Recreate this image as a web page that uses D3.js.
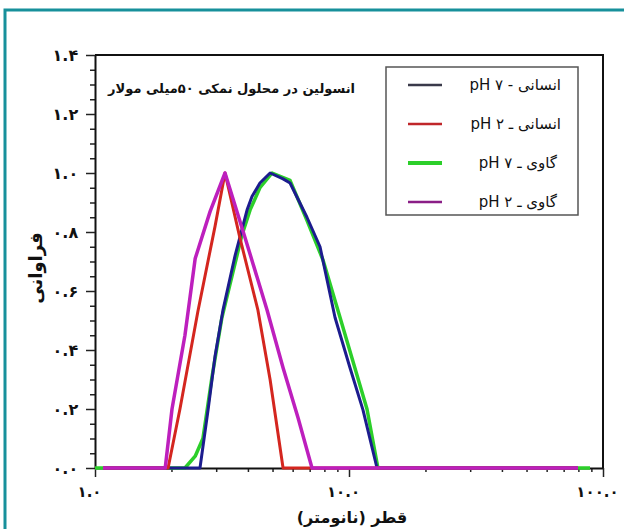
<!DOCTYPE html>
<html lang="fa">
<head>
<meta charset="UTF-8">
<title>توزیع اندازه ذرات انسولین</title>
<script src="https://d3js.org/d3.v7.min.js"></script>
<style>
  body { margin: 0; background: #fff; }
  svg text { font-family: "DejaVu Sans", "Noto Sans", sans-serif; fill: #111; }
</style>
</head>
<body>
<svg width="624" height="529"></svg>
<script>
// diameter (nm) and frequency
var humanPh7X = [1.075, 2.59, 2.79, 2.97, 3.19, 3.56, 3.97, 4.15, 4.46, 4.89, 5.50, 5.86, 6.83, 7.69, 8.81, 10.09, 11.35, 12.89, 79.7];
var humanPh7Y = [0, 0, 0.2, 0.38, 0.535, 0.72, 0.875, 0.92, 0.966, 1.0, 0.98, 0.966, 0.85, 0.75, 0.51, 0.34, 0.197, 0, 0];

var humanPh2X = [1.075, 1.94, 2.16, 2.54, 2.97, 3.25, 3.72, 4.38, 4.89, 5.50, 79.7];
var humanPh2Y = [0, 0, 0.2, 0.53, 0.82, 1.0, 0.78, 0.535, 0.3, 0, 0];

var bovinePh7X = [1.0, 2.26, 2.48, 2.66, 2.89, 3.16, 3.79, 4.08, 4.46, 4.98, 5.86, 6.83, 7.90, 9.22, 11.77, 13.0, 88.9];
var bovinePh7Y = [0, 0, 0.04, 0.1, 0.31, 0.51, 0.79, 0.875, 0.95, 1.0, 0.975, 0.84, 0.705, 0.51, 0.2, 0, 0];

var bovinePh2X = [1.075, 1.89, 2.01, 2.26, 2.48, 2.84, 3.25, 3.90, 4.76, 5.50, 6.30, 7.15, 79.7];
var bovinePh2Y = [0, 0, 0.2, 0.45, 0.71, 0.87, 1.0, 0.78, 0.535, 0.34, 0.17, 0, 0];

var seriesNames = ["انسانی - pH ۷", "انسانی ـ pH ۲", "گاوی ـ pH ۷", "گاوی ـ pH ۲"];
var seriesColors = ["#1c1c8e", "#d4261f", "#2ccf2a", "#bd1fbd"];
var legendColors = ["#3a3a4a", "#c0262a", "#2ccf2a", "#8a1e86"];

var yTicks = [0, 0.2, 0.4, 0.6, 0.8, 1.0, 1.2, 1.4];
var yTickLabels = ["۰.۰", "۰.۲", "۰.۴", "۰.۶", "۰.۸", "۱.۰", "۱.۲", "۱.۴"];
var xTicks = [1, 10, 100];
var xTickLabels = ["۱.۰", "۱۰.۰", "۱۰۰.۰"];

var chartTitle = "انسولین در محلول نمکی ۵۰میلی مولار";
var xTitle = "قطر (نانومتر)";
var yTitle = "فراوانی";

var svg = d3.select("svg");
var plotLeft = 95, plotRight = 603, plotTop = 55, plotBottom = 468;

// teal frame around the figure
svg.append("path")
   .attr("d", "M5,640 V10 H640")
   .attr("fill", "none")
   .attr("stroke", "#17909b")
   .attr("stroke-width", 3);

var x = d3.scaleLog().domain([1, 100]).range([plotLeft, plotRight]);
var y = d3.scaleLinear().domain([0, 1.4]).range([plotBottom, plotTop]);

// minor ticks
var xMinor = [];
[1, 10].forEach(function(b) { for (var k = 2; k <= 9; k++) xMinor.push(b * k); });
var yMinor = d3.range(0, 1.4001, 0.05).filter(function(v) { return Math.abs(v * 5 - Math.round(v * 5)) > 1e-6; });

svg.append("g")
   .attr("transform", "translate(0," + plotBottom + ")")
   .call(d3.axisBottom(x).tickValues(xMinor).tickSize(4).tickFormat(""))
   .call(function(g) { g.select(".domain").remove(); });

svg.append("g")
   .attr("transform", "translate(" + plotLeft + ",0)")
   .call(d3.axisLeft(y).tickValues(yMinor).tickSize(5).tickFormat(""))
   .call(function(g) { g.select(".domain").remove(); });

// major axes
svg.append("g")
   .attr("class", "xaxis")
   .attr("transform", "translate(0," + plotBottom + ")")
   .call(d3.axisBottom(x).tickValues(xTicks).tickSize(9).tickSizeOuter(0)
         .tickFormat(function(d, i) { return xTickLabels[i]; }));

svg.append("g")
   .attr("class", "yaxis")
   .attr("transform", "translate(" + plotLeft + ",0)")
   .call(d3.axisLeft(y).tickValues(yTicks).tickSize(9).tickSizeOuter(0)
         .tickFormat(function(d, i) { return yTickLabels[i]; }));

svg.selectAll(".tick line").attr("stroke", "#222").attr("stroke-width", 1.5);
svg.selectAll(".domain").attr("stroke", "#111").attr("stroke-width", 2);
svg.selectAll(".xaxis text").attr("font-size", 15).attr("font-weight", "bold")
   .attr("dy", "1.1em").attr("dx", -6);
svg.selectAll(".yaxis text").attr("font-size", 16).attr("font-weight", "bold").attr("dx", "-0.3em");

// top and right edges of the box
svg.append("path")
   .attr("d", "M" + plotLeft + "," + plotTop + " H" + plotRight + " V" + plotBottom)
   .attr("fill", "none")
   .attr("stroke", "#111")
   .attr("stroke-width", 2);

// curves
var line = d3.line()
    .x(function(d) { return x(d[0]); })
    .y(function(d) { return y(d[1]); });

var curves = [
  { xs: bovinePh7X, ys: bovinePh7Y, color: seriesColors[2], w: 3.5 },
  { xs: humanPh7X, ys: humanPh7Y, color: seriesColors[0], w: 3 },
  { xs: humanPh2X, ys: humanPh2Y, color: seriesColors[1], w: 3 },
  { xs: bovinePh2X, ys: bovinePh2Y, color: seriesColors[3], w: 3.5 }
];

svg.append("g").selectAll("path")
   .data(curves)
   .join("path")
   .attr("d", function(c) { return line(d3.zip(c.xs, c.ys)); })
   .attr("fill", "none")
   .attr("stroke", function(c) { return c.color; })
   .attr("stroke-width", function(c) { return c.w; })
   .attr("stroke-linejoin", "round");

// title inside the plot
svg.append("text")
   .attr("x", 355).attr("y", 93)
   .attr("direction", "rtl")
   .attr("text-anchor", "start")
   .attr("font-size", 13)
   .attr("font-weight", "bold")
   .text(chartTitle);

// legend
var lg = svg.append("g");
lg.append("rect")
  .attr("x", 386).attr("y", 67).attr("width", 192).attr("height", 148)
  .attr("fill", "#fff").attr("stroke", "#555").attr("stroke-width", 1.5);

var rowY = [85, 124, 163, 202];
var rows = lg.selectAll("g.row")
  .data(seriesNames)
  .join("g")
  .attr("class", "row")
  .attr("transform", function(d, i) { return "translate(0," + rowY[i] + ")"; });

rows.append("line")
  .attr("x1", 408).attr("x2", 442)
  .attr("stroke", function(d, i) { return legendColors[i]; })
  .attr("stroke-width", function(d, i) { return i == 2 ? 4 : 2.5; });

rows.append("text")
  .attr("x", function(d, i) { return i < 2 ? 561 : 557; })
  .attr("dy", "0.35em")
  .attr("direction", "rtl")
  .attr("text-anchor", "start")
  .attr("font-size", 15)
  .text(function(d) { return d; });

// axis titles
svg.append("text")
   .attr("x", 352).attr("y", 523)
   .attr("text-anchor", "middle")
   .attr("font-size", 16)
   .attr("font-weight", "bold")
   .text(xTitle);

svg.append("text")
   .attr("transform", "translate(42,268) rotate(-90)")
   .attr("text-anchor", "middle")
   .attr("font-size", 18)
   .attr("font-weight", "bold")
   .text(yTitle);
</script>
</body>
</html>
